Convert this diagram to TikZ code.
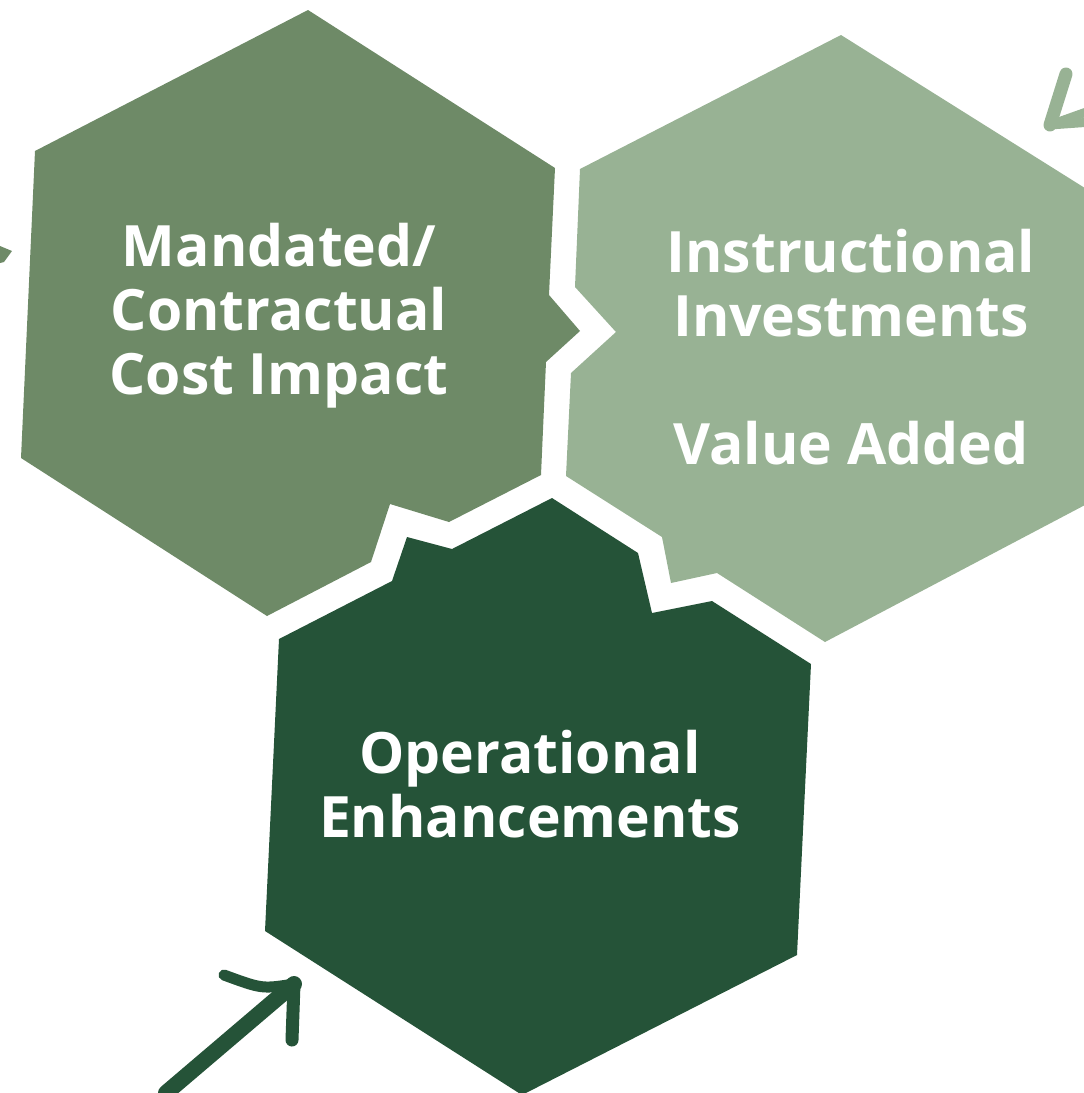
\documentclass[tikz,border=0pt]{standalone}
\usepackage{fontspec}
\setmainfont{Open Sans}
\definecolor{midgreen}{HTML}{6E8A67}
\definecolor{lightgreen}{HTML}{98B294}
\definecolor{darkgreen}{HTML}{255338}
\begin{document}
\begin{tikzpicture}[x=1pt,y=-1pt]
\tikzstyle{every node}=[text=white, font=\bfseries\fontsize{57}{64}\selectfont, align=center, inner sep=0pt]
\tikzstyle{brush}=[line width=16pt, line cap=round, line join=round]
\useasboundingbox (0,0) rectangle (1084,1093);
\clip (0,0) rectangle (1084,1093);
% hexagon pieces
\fill[midgreen] (308,10) -- (555,168) -- (549,295) -- (580,331) -- (546,362) -- (541,475)
  -- (449,522) -- (390,504) -- (371,562) -- (267,616) -- (21,458) -- (35,151) -- cycle;
\fill[lightgreen] (841,35) -- (1096,195) -- (1085,505) -- (825,642) -- (717,573) -- (671,583)
  -- (662,537) -- (566,476) -- (571,373) -- (616,332) -- (575,287) -- (580,169) -- cycle;
\fill[darkgreen] (552,498) -- (638,553) -- (652,613) -- (712,601) -- (811,664) -- (797,955)
  -- (522,1095) -- (265,931) -- (279,639) -- (392,581) -- (407,537) -- (452,549) -- cycle;
% labels
\node (mandated) at (279,316) {Mandated/\\Contractual\\Cost Impact};
\node (instruct) at (851,347) {Instructional\\Investments\\[64pt]Value Added};
\node (operation) at (530,784) {Operational\\Enhancements};
% brush arrows
\coordinate (a1) at (166,1093);
\coordinate (a2) at (294,984);
\coordinate (a3) at (224,975);
\coordinate (a4) at (292,1040);
\draw[brush, darkgreen] (a1) -- (a2);
\draw[brush, darkgreen, line width=11pt] (a2) .. controls (262,989) .. (a3);
\draw[brush, darkgreen, line width=13pt] (a2) -- (a4);
\coordinate (b1) at (1050,125);
\coordinate (b2) at (1066,74);
\coordinate (b3) at (1092,110);
\coordinate (b4) at (1092,122);
\draw[brush, lightgreen, line width=13pt] (b1) -- (b2);
\draw[brush, lightgreen, line width=9pt] (b1) -- (b3);
\draw[brush, lightgreen, line width=9pt] (b1) -- (b4);
\fill[midgreen] (0,246) -- (12,251) -- (4,262) -- (0,263) -- cycle;
\end{tikzpicture}
\end{document}
